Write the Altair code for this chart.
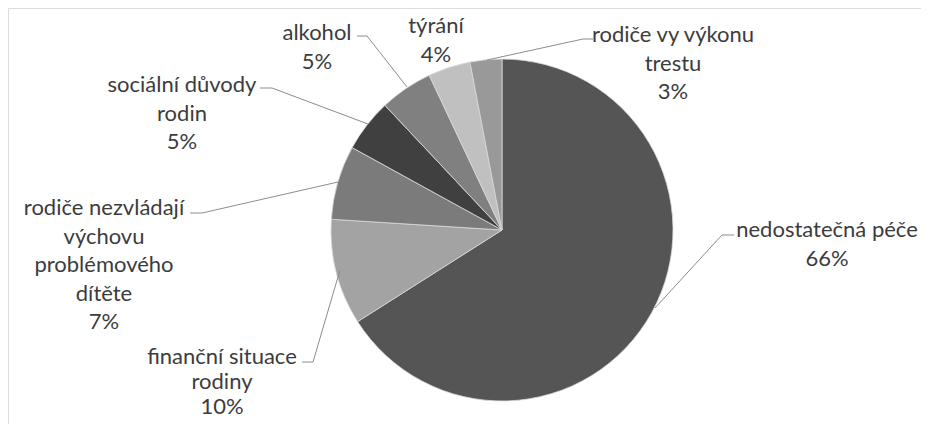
import altair as alt
import pandas as pd

# ---- data ----
categories = [
    "nedostatečná péče",
    "finanční situace rodiny",
    "rodiče nezvládají výchovu problémového dítěte",
    "sociální důvody rodin",
    "alkohol",
    "týrání",
    "rodiče vy výkonu trestu",
]
values = [66, 10, 7, 5, 5, 4, 3]

# ---- styles / layout (not data) ----
colors = ["#555555", "#a3a3a3", "#7b7b7b", "#404040", "#808080", "#c0c0c0", "#999999"]
label_lines = [
    ["nedostatečná péče"],
    ["finanční situace", "rodiny"],
    ["rodiče nezvládají", "výchovu", "problémového", "dítěte"],
    ["sociální důvody", "rodin"],
    ["alkohol"],
    ["týrání"],
    ["rodiče vy výkonu", "trestu"],
]
# first-line centres of label blocks (chart pixel coords)
label_x = [819, 214, 96, 174, 309, 428, 665]
label_y = [222, 349, 200, 77, 25, 18, 27]
label_lh = [28.5, 25, 28.5, 28.5, 28.5, 28.5, 28.5]
# leader line polylines (chart pixel coords)
leaders = [
    [(726, 227), (714, 227), (647, 300)],
    [(294, 354), (305, 354), (332, 262)],
    [(182, 205), (194, 205), (330, 174)],
    [(252, 80), (264, 80), (360, 116)],
    [(349, 28), (359, 28), (399, 79)],
    [],
    [(585, 31), (575, 31), (479, 52)],
]

CX, CY, R = 494, 222, 171
W, H = 913, 416

pie_df = pd.DataFrame({
    "kategorie": categories,
    "hodnota": values,
    "poradi": list(range(len(categories))),
})

lab_rows = []
for i, (lines, v) in enumerate(zip(label_lines, values)):
    lab_rows.append({
        "text": "\n".join(lines + [f"{v}%"]),
        "lx": label_x[i],
        "ly": label_y[i],
        "lh": label_lh[i],
    })
lab_df = pd.DataFrame(lab_rows)

lead_rows = []
for i, pts in enumerate(leaders):
    for j, (px, py) in enumerate(pts):
        lead_rows.append({"seg": i, "k": j, "px": px, "py": py})
lead_df = pd.DataFrame(lead_rows)

pie = alt.Chart(pie_df).mark_arc(
    radius=R, stroke="#d9d9d9", strokeWidth=0.8
).encode(
    theta=alt.Theta("hodnota:Q", stack=True),
    order=alt.Order("poradi:Q"),
    color=alt.Color("kategorie:N", scale=alt.Scale(domain=categories, range=colors), legend=None),
    x=alt.value(CX),
    y=alt.value(CY),
)

lines = alt.Chart(lead_df).mark_line(color="#8c8c8c", strokeWidth=1).encode(
    x=alt.X("px:Q", scale=None),
    y=alt.Y("py:Q", scale=None),
    detail="seg:N",
    order="k:Q",
)

text_layers = []
for lh in sorted(set(label_lh)):
    sub = lab_df[lab_df["lh"] == lh]
    text_layers.append(
        alt.Chart(sub).mark_text(
            font="Lato", fontSize=22, color="#3c3c3c", lineBreak="\n",
            lineHeight=lh, align="center", baseline="middle",
        ).encode(
            x=alt.X("lx:Q", scale=None),
            y=alt.Y("ly:Q", scale=None),
            text="text:N",
        )
    )

chart = alt.layer(pie, lines, *text_layers).properties(
    width=W, height=H, padding=0, autosize="none"
).configure_view(stroke=None).configure(background="white")

chart.save("out.html", embed_options={"renderer": "svg", "actions": False})
